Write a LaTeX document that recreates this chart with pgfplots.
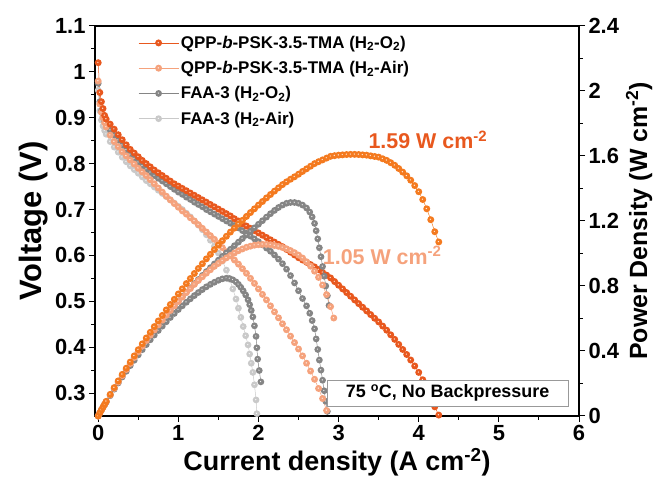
\documentclass[border=0pt]{standalone}
\usepackage{fontspec}
\setmainfont{Liberation Sans}
\usepackage{pgfplots}
\pgfplotsset{compat=1.18}
\usepackage{pgfplotstable}
\definecolor{qo}{HTML}{E8581E}
\definecolor{qop}{HTML}{F47A1F}
\definecolor{qa}{HTML}{F5A27C}
\definecolor{fo}{HTML}{858585}
\definecolor{fa}{HTML}{C9C9C9}

\pgfdeclareplotmark{bead}{%
  \pgfpathcircle{\pgfpointorigin}{\pgfplotmarksize}\pgfusepathqfill
  \begin{pgfscope}\pgfsetfillcolor{white}\pgfsetfillopacity{0.85}%
  \pgfpathcircle{\pgfpoint{-0.1\pgfplotmarksize}{0.1\pgfplotmarksize}}{0.2\pgfplotmarksize}\pgfusepathqfill
  \end{pgfscope}}

\pgfplotstableread{
x V P
0.00 1.020 0.000
0.02 0.955 0.019
0.04 0.935 0.037
0.06 0.920 0.055
0.08 0.905 0.072
0.10 0.897 0.090
0.15 0.886 0.133
0.20 0.875 0.175
0.25 0.863 0.216
0.30 0.852 0.256
0.35 0.841 0.294
0.40 0.831 0.332
0.45 0.823 0.370
0.50 0.815 0.408
0.55 0.807 0.444
0.60 0.800 0.480
0.65 0.793 0.515
0.70 0.786 0.550
0.75 0.780 0.585
0.80 0.774 0.619
0.85 0.768 0.653
0.90 0.762 0.686
0.95 0.756 0.718
1.00 0.751 0.751
1.05 0.746 0.783
1.10 0.741 0.815
1.15 0.736 0.846
1.20 0.731 0.877
1.25 0.726 0.908
1.30 0.721 0.937
1.35 0.716 0.967
1.40 0.711 0.995
1.45 0.706 1.024
1.50 0.701 1.052
1.55 0.696 1.079
1.60 0.691 1.106
1.65 0.686 1.132
1.70 0.680 1.156
1.75 0.675 1.181
1.80 0.669 1.204
1.85 0.664 1.228
1.90 0.659 1.252
1.95 0.654 1.275
2.00 0.649 1.298
2.05 0.644 1.320
2.10 0.639 1.342
2.15 0.634 1.363
2.20 0.629 1.384
2.25 0.624 1.404
2.30 0.619 1.424
2.35 0.613 1.441
2.40 0.607 1.457
2.45 0.601 1.472
2.50 0.595 1.488
2.55 0.590 1.505
2.60 0.585 1.521
2.65 0.580 1.537
2.70 0.575 1.553
2.75 0.569 1.565
2.80 0.563 1.576
2.85 0.557 1.587
2.90 0.551 1.598
2.95 0.543 1.602
3.00 0.535 1.605
3.05 0.527 1.607
3.10 0.519 1.609
3.15 0.511 1.610
3.20 0.503 1.610
3.25 0.495 1.609
3.30 0.487 1.607
3.35 0.479 1.605
3.40 0.471 1.601
3.45 0.463 1.597
3.50 0.455 1.593
3.55 0.446 1.583
3.60 0.437 1.573
3.65 0.427 1.559
3.70 0.417 1.543
3.75 0.406 1.523
3.80 0.395 1.501
3.85 0.384 1.478
3.90 0.372 1.451
3.95 0.359 1.418
4.00 0.345 1.380
4.05 0.329 1.332
4.10 0.311 1.275
4.15 0.291 1.208
4.20 0.270 1.134
4.25 0.252 1.071
}\qpo

\pgfplotstableread{
x V P
0.00 0.980 0.000
0.02 0.930 0.019
0.04 0.912 0.036
0.06 0.900 0.054
0.08 0.889 0.071
0.10 0.880 0.088
0.15 0.862 0.129
0.20 0.848 0.170
0.25 0.837 0.209
0.30 0.826 0.248
0.35 0.817 0.286
0.40 0.808 0.323
0.45 0.799 0.360
0.50 0.790 0.395
0.55 0.782 0.430
0.60 0.774 0.464
0.65 0.765 0.497
0.70 0.756 0.529
0.75 0.747 0.560
0.80 0.738 0.590
0.85 0.729 0.620
0.90 0.721 0.649
0.95 0.713 0.677
1.00 0.705 0.705
1.05 0.697 0.732
1.10 0.690 0.759
1.15 0.682 0.784
1.20 0.675 0.810
1.25 0.667 0.834
1.30 0.659 0.857
1.35 0.651 0.879
1.40 0.643 0.900
1.45 0.635 0.921
1.50 0.626 0.939
1.55 0.617 0.956
1.60 0.608 0.973
1.65 0.599 0.988
1.70 0.590 1.003
1.75 0.581 1.017
1.80 0.571 1.028
1.85 0.561 1.038
1.90 0.550 1.045
1.95 0.539 1.051
2.00 0.527 1.054
2.05 0.515 1.056
2.10 0.503 1.056
2.15 0.490 1.054
2.20 0.477 1.049
2.25 0.464 1.044
2.30 0.451 1.037
2.35 0.438 1.029
2.40 0.424 1.018
2.45 0.410 1.005
2.50 0.396 0.990
2.55 0.381 0.972
2.60 0.365 0.949
2.65 0.348 0.922
2.70 0.330 0.891
2.75 0.310 0.853
2.80 0.288 0.806
2.85 0.262 0.747
2.90 0.232 0.673
2.94 0.205 0.603
}\qpa

\pgfplotstableread{
x V P
0.00 0.975 0.000
0.02 0.935 0.019
0.04 0.915 0.037
0.06 0.903 0.054
0.08 0.893 0.071
0.10 0.886 0.088
0.15 0.873 0.130
0.20 0.862 0.171
0.25 0.851 0.211
0.30 0.840 0.250
0.35 0.830 0.288
0.40 0.820 0.325
0.45 0.811 0.361
0.50 0.803 0.397
0.55 0.795 0.431
0.60 0.788 0.465
0.65 0.781 0.498
0.70 0.774 0.530
0.75 0.768 0.561
0.80 0.762 0.592
0.85 0.756 0.622
0.90 0.750 0.651
0.95 0.744 0.680
1.00 0.738 0.708
1.05 0.733 0.735
1.10 0.727 0.762
1.15 0.722 0.789
1.20 0.716 0.815
1.25 0.711 0.840
1.30 0.706 0.865
1.35 0.700 0.889
1.40 0.695 0.913
1.45 0.690 0.936
1.50 0.685 0.959
1.55 0.680 0.982
1.60 0.675 1.004
1.65 0.670 1.026
1.70 0.665 1.048
1.75 0.660 1.070
1.80 0.654 1.092
1.85 0.648 1.114
1.90 0.642 1.136
1.95 0.636 1.158
2.00 0.630 1.180
2.05 0.623 1.202
2.10 0.616 1.224
2.15 0.609 1.245
2.20 0.601 1.265
2.25 0.592 1.283
2.30 0.582 1.298
2.35 0.570 1.309
2.40 0.556 1.314
2.45 0.540 1.314
2.50 0.523 1.309
2.55 0.506 1.298
2.60 0.490 1.280
2.64 0.474 1.255
2.67 0.458 1.225
2.70 0.440 1.185
2.72 0.418 1.140
2.74 0.395 1.090
2.76 0.372 1.035
2.78 0.350 0.980
2.80 0.328 0.920
2.82 0.305 0.860
2.84 0.282 0.800
2.86 0.260 0.740
2.88 0.236 0.680
}\fao

\pgfplotstableread{
x V P
0.00 0.960 0.000
0.02 0.915 0.018
0.04 0.895 0.036
0.06 0.882 0.053
0.08 0.872 0.070
0.10 0.864 0.085
0.15 0.848 0.125
0.20 0.836 0.165
0.25 0.825 0.203
0.30 0.814 0.240
0.35 0.804 0.275
0.40 0.795 0.310
0.45 0.787 0.343
0.50 0.779 0.376
0.55 0.771 0.408
0.60 0.763 0.439
0.65 0.756 0.469
0.70 0.749 0.498
0.75 0.742 0.526
0.80 0.735 0.553
0.85 0.728 0.580
0.90 0.721 0.606
0.95 0.714 0.631
1.00 0.707 0.655
1.05 0.700 0.678
1.10 0.692 0.700
1.15 0.684 0.721
1.20 0.675 0.741
1.25 0.666 0.760
1.30 0.656 0.778
1.35 0.645 0.795
1.40 0.633 0.810
1.45 0.620 0.823
1.50 0.605 0.835
1.55 0.588 0.844
1.60 0.568 0.848
1.64 0.548 0.846
1.68 0.527 0.838
1.72 0.505 0.825
1.75 0.485 0.810
1.78 0.465 0.792
1.81 0.445 0.770
1.84 0.425 0.745
1.87 0.405 0.715
1.89 0.385 0.685
1.91 0.365 0.650
1.93 0.345 0.610
1.95 0.318 0.555
1.97 0.285 0.490
1.98 0.255 0.420
1.99 0.225 0.350
2.01 0.180 0.280
2.03 0.130 0.210
}\faa

\pgfplotsset{
  common/.style={
    scale only axis, width=484bp, height=390bp,
    xmin=-0.04, xmax=6,
    tick align=outside,
    major tick length=6bp, minor tick length=3.5bp,
    axis line style={line width=1.2bp},
    every tick/.style={line width=1bp,black},
    /pgf/number format/assume math mode=true,
    ticklabel style={font=\fontsize{22}{22}\selectfont\bfseries},
  },
  vstyle/.style={line width=0.5pt, restrict y to domain=0.25:1.2},
  ser/.style 2 args={#1, line width=0.5pt, mark=bead, mark size=#2, mark options={fill=#1}},
}

\begin{document}
\begin{tikzpicture}
\begin{axis}[common,
  ymin=0.25, ymax=1.1,
  xtick={0,1,2,3,4,5,6},
  ytick={0.3,0.4,0.5,0.6,0.7,0.8,0.9,1,1.1},
  minor x tick num=1, minor y tick num=1,
  xtick pos=bottom, ytick pos=left,
  xlabel={Current density (A cm\textsuperscript{-2})},
  ylabel={Voltage (V)},
  xlabel style={font=\fontsize{27}{27}\selectfont\bfseries},
  ylabel style={font=\fontsize{31}{31}\selectfont\bfseries},
  reverse legend,
  legend style={draw=none, fill=none, at={(0.083,0.985)}, anchor=north west,
    font=\fontsize{17}{17}\selectfont\bfseries, row sep=7.5bp},
  legend cell align=left,
  legend image code/.code={\draw[#1, mark repeat=2, mark phase=2] plot coordinates {(0bp,0bp) (20bp,0bp) (40bp,0bp)};},
]
\coordinate (LL) at (rel axis cs:0,0);
\addplot[ser={fa}{3.4bp}, vstyle] table[x=x,y=V]{\faa};
\addlegendentry{FAA-3 (H\textsubscript{2}-Air)}
\addplot[ser={fo}{3.4bp}, vstyle] table[x=x,y=V]{\fao};
\addlegendentry{FAA-3 (H\textsubscript{2}-O\textsubscript{2})}
\addplot[ser={qa}{3.5bp}, vstyle] table[x=x,y=V]{\qpa};
\addlegendentry{QPP-\textit{b}-PSK-3.5-TMA (H\textsubscript{2}-Air)}
\addplot[ser={qo}{3.5bp}, vstyle] table[x=x,y=V]{\qpo};
\addlegendentry{QPP-\textit{b}-PSK-3.5-TMA (H\textsubscript{2}-O\textsubscript{2})}
\end{axis}

\begin{axis}[common,
  ymin=0, ymax=2.4,
  axis x line=none, axis y line*=right,
  ytick={0,0.4,0.8,1.2,1.6,2,2.4},
  minor y tick num=1,
  ylabel={Power Density (W cm\textsuperscript{-2})},
  ylabel style={font=\fontsize{25}{25}\selectfont\bfseries},
]
\addplot[ser={fo}{3.4bp}] table[x=x,y=P]{\faa};
\addplot[ser={fo}{3.4bp}] table[x=x,y=P]{\fao};
\addplot[ser={qa}{3.5bp}] table[x=x,y=P]{\qpa};
\addplot[ser={qop}{3.5bp}] table[x=x,y=P]{\qpo};
\node[anchor=west, text=qo, font=\fontsize{21.5}{21.5}\selectfont\bfseries] at (axis cs:3.33,1.70) {1.59 W cm\textsuperscript{-2}};
\node[anchor=west, text=qa, font=\fontsize{21.5}{21.5}\selectfont\bfseries] at (axis cs:2.76,0.99) {1.05 W cm\textsuperscript{-2}};
\node[draw=gray!80, fill=white, line width=0.7bp, minimum width=241bp, minimum height=26bp, inner sep=0pt,
  font=\fontsize{18}{18}\selectfont\bfseries] at (axis cs:4.36,0.142) {75 \textsuperscript{o}C, No Backpressure};
\end{axis}
\pgfresetboundingbox
\path[use as bounding box] (LL) ++(-95bp,-79bp) rectangle ++(672bp,495bp);
\end{tikzpicture}
\end{document}
